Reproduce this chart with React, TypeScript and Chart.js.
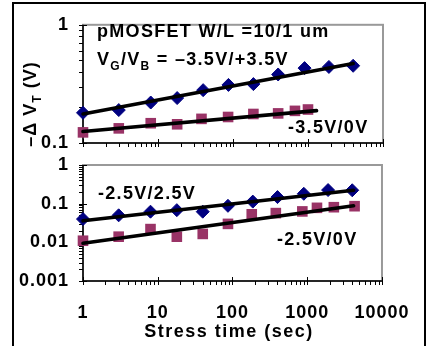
import { useEffect, useRef } from "react";
import { Chart, registerables } from "chart.js";

Chart.register(...registerables);

// ---------- data ----------
const timeTicks = [1, 10, 100, 1000, 10000];
const topYTicks = [0.1, 1];
const bottomYTicks = [0.001, 0.01, 0.1, 1];

// diamonds (bias on bulk) – same stress times in both panels
const timesDiamond = [1, 3, 8, 18, 40, 87, 187, 400, 900, 1900, 4000];
const top35Bias = [0.18, 0.19, 0.22, 0.24, 0.28, 0.31, 0.315, 0.38, 0.43, 0.44, 0.45];
const bot25Bias = [0.04, 0.05, 0.062, 0.068, 0.062, 0.088, 0.113, 0.148, 0.18, 0.225, 0.222];

// squares (no bulk bias)
const timesTopSquare = [1, 3, 8, 18, 38, 86, 187, 400, 670, 1000];
const top35NoBias = [0.123, 0.133, 0.147, 0.144, 0.16, 0.166, 0.176, 0.178, 0.187, 0.192];
const timesBotSquare = [1, 3, 8, 18, 40, 87, 181, 380, 860, 1350, 2270, 4300];
const bot25NoBias = [0.011, 0.014, 0.022, 0.014, 0.0165, 0.03, 0.053, 0.057, 0.063, 0.078, 0.081, 0.086];

// fitted power-law lines (end points)
const fitTopBiasT = [1, 4000];
const fitTopBiasV = [0.176, 0.47];
const fitTopNoBiasT = [1, 1300];
const fitTopNoBiasV = [0.125, 0.188];
const fitBotBiasT = [1, 4170];
const fitBotBiasV = [0.036, 0.222];
const fitBotNoBiasT = [1, 4170];
const fitBotNoBiasV = [0.0095, 0.088];

// ---------- styles ----------
const NAVY = "#000080";
const PLUM = "#993366";
const FONT = '"Liberation Sans", Arial, Helvetica, sans-serif';
const BIG = `bold 18px ${FONT}`;
const SUB = `bold 12px ${FONT}`;

const pts = (xs: number[], ys: number[]) => xs.map((x, i) => ({ x, y: ys[i] }));

type Part = { t: string; sub?: boolean };

function partsWidth(ctx: CanvasRenderingContext2D, parts: Part[]) {
  let w = 0;
  for (const p of parts) {
    ctx.font = p.sub ? SUB : BIG;
    w += ctx.measureText(p.t).width;
  }
  return w;
}

function drawRich(ctx: CanvasRenderingContext2D, parts: Part[], x: number, y: number) {
  let cx = x;
  ctx.textAlign = "left";
  ctx.textBaseline = "alphabetic";
  for (const p of parts) {
    ctx.font = p.sub ? SUB : BIG;
    ctx.fillText(p.t, cx, y + (p.sub ? 5 : 0));
    cx += ctx.measureText(p.t).width;
  }
}

const decorPlugin = {
  id: "decor",
  beforeDraw(chart: any) {
    (chart.ctx as any).letterSpacing = "1px";
  },
  beforeDatasetsDraw(chart: any) {
    const { ctx, chartArea: a, scales } = chart;
    ctx.save();
    ctx.strokeStyle = "#999999";
    ctx.lineWidth = 2;
    ctx.strokeRect(a.left, a.top, a.right - a.left, a.bottom - a.top);
    ctx.strokeStyle = "#000";
    ctx.lineWidth = 1.5;
    ctx.beginPath();
    ctx.moveTo(a.left, a.top);
    ctx.lineTo(a.left, a.bottom);
    ctx.lineTo(a.right, a.bottom);
    ctx.stroke();
    ctx.lineWidth = 1;
    const logTicks = (min: number, max: number) => {
      const out: { v: number; major: boolean }[] = [];
      for (let e = Math.floor(Math.log10(min) + 1e-9); e <= Math.round(Math.log10(max)); e++) {
        for (let k = 1; k <= 9; k++) {
          const v = k * Math.pow(10, e);
          if (v < min * 0.999 || v > max * 1.001) continue;
          out.push({ v, major: k === 1 });
        }
      }
      return out;
    };
    const xs = scales.x;
    const ys = scales.y;
    ctx.beginPath();
    for (const t of logTicks(xs.min, xs.max)) {
      const px = Math.round(xs.getPixelForValue(t.v)) + 0.5;
      ctx.moveTo(px, t.major ? a.bottom - 4 : a.bottom);
      ctx.lineTo(px, a.bottom + 4);
    }
    for (const t of logTicks(ys.min, ys.max)) {
      const py = Math.round(ys.getPixelForValue(t.v)) + 0.5;
      ctx.moveTo(a.left - 4, py);
      ctx.lineTo(t.major ? a.left + 4 : a.left, py);
    }
    ctx.stroke();
    ctx.restore();
  },
};

const topTextPlugin = {
  id: "topText",
  afterDraw(chart: any) {
    const ctx: CanvasRenderingContext2D = chart.ctx;
    ctx.save();
    (ctx as any).letterSpacing = "1.3px";
    ctx.fillStyle = "#000";
    drawRich(ctx, [{ t: "pMOSFET W/L =10/1 um" }], 97, 37);
    drawRich(
      ctx,
      [{ t: "V" }, { t: "G", sub: true }, { t: "/V" }, { t: "B", sub: true }, { t: " = –3.5V/+3.5V" }],
      97,
      65
    );
    drawRich(ctx, [{ t: "-3.5V/0V" }], 288, 133);
    // y axis title
    (ctx as any).letterSpacing = "1px";
    const yParts: Part[] = [{ t: "–Δ V" }, { t: "T", sub: true }, { t: " (V)" }];
    const w = partsWidth(ctx, yParts);
    ctx.translate(36, 104);
    ctx.rotate(-Math.PI / 2);
    drawRich(ctx, yParts, -w / 2, 0);
    ctx.restore();
  },
};

const bottomTextPlugin = {
  id: "bottomText",
  afterDraw(chart: any) {
    const ctx: CanvasRenderingContext2D = chart.ctx;
    ctx.save();
    (ctx as any).letterSpacing = "1.3px";
    ctx.fillStyle = "#000";
    drawRich(ctx, [{ t: "-2.5V/2.5V" }], 98, 199);
    drawRich(ctx, [{ t: "-2.5V/0V" }], 277, 245);
    ctx.font = BIG;
    (ctx as any).letterSpacing = "1.5px";
    ctx.textAlign = "center";
    ctx.textBaseline = "alphabetic";
    ctx.fillText("Stress time (sec)", 229, 337);
    ctx.restore();
  },
};

function lineDs(xs: number[], ys: number[]) {
  return {
    data: pts(xs, ys),
    showLine: true,
    borderColor: "#000",
    backgroundColor: "#000",
    borderWidth: 3.6,
    borderCapStyle: "round",
    pointRadius: 0,
    clip: false,
  };
}

function markerDs(xs: number[], ys: number[], diamond: boolean) {
  const c = diamond ? NAVY : PLUM;
  return {
    data: pts(xs, ys),
    showLine: false,
    pointStyle: diamond ? "rectRot" : "rect",
    pointRadius: diamond ? 6.5 : 7.5,
    backgroundColor: c,
    borderColor: c,
    borderWidth: diamond ? 1 : 0,
    clip: false,
  };
}

function makeConfig(opts: {
  datasets: any[];
  yMin: number;
  yMax: number;
  yTicks: number[];
  showX: boolean;
  padding: any;
  xHeight: number;
  plugins: any[];
}) {
  return {
    type: "scatter" as const,
    data: { datasets: opts.datasets },
    options: {
      animation: false,
      responsive: false,
      devicePixelRatio: 1,
      events: [],
      layout: { padding: opts.padding },
      plugins: { legend: { display: false }, tooltip: { enabled: false } },
      scales: {
        x: {
          type: "logarithmic",
          min: 1,
          max: 10000,
          afterBuildTicks: (s: any) => {
            s.ticks = timeTicks.map((v) => ({ value: v }));
          },
          afterFit: (s: any) => {
            s.height = opts.xHeight;
          },
          ticks: {
            display: opts.showX,
            autoSkip: false,
            maxRotation: 0,
            padding: 21,
            color: "#000",
            font: { family: FONT, size: 18, weight: "bold" },
            callback: (v: any) => String(v),
          },
          grid: { display: false, drawTicks: false },
          border: { display: false },
        },
        y: {
          type: "logarithmic",
          min: opts.yMin,
          max: opts.yMax,
          afterBuildTicks: (s: any) => {
            s.ticks = opts.yTicks.map((v) => ({ value: v }));
          },
          afterFit: (s: any) => {
            s.width = 83;
          },
          ticks: {
            autoSkip: false,
            padding: 14,
            color: "#000",
            font: { family: FONT, size: 18, weight: "bold" },
            callback: (v: any) => String(v),
          },
          grid: { display: false, drawTicks: false },
          border: { display: false },
        },
      },
    },
    plugins: opts.plugins,
  };
}

export default function App() {
  const topRef = useRef<HTMLCanvasElement>(null);
  const botRef = useRef<HTMLCanvasElement>(null);

  useEffect(() => {
    const top = new Chart(
      topRef.current as HTMLCanvasElement,
      makeConfig({
        datasets: [
          lineDs(fitTopBiasT, fitTopBiasV),
          lineDs(fitTopNoBiasT, fitTopNoBiasV),
          markerDs(timesDiamond, top35Bias, true),
          markerDs(timesTopSquare, top35NoBias, false),
        ],
        yMin: 0.1,
        yMax: 1,
        yTicks: topYTicks,
        showX: false,
        padding: { left: 0, right: 45, top: 15, bottom: 203 },
        xHeight: 0,
        plugins: [decorPlugin, topTextPlugin],
      }) as any
    );
    const bottom = new Chart(
      botRef.current as HTMLCanvasElement,
      makeConfig({
        datasets: [
          lineDs(fitBotBiasT, fitBotBiasV),
          lineDs(fitBotNoBiasT, fitBotNoBiasV),
          markerDs(timesDiamond, bot25Bias, true),
          markerDs(timesBotSquare, bot25NoBias, false),
        ],
        yMin: 0.001,
        yMax: 1,
        yTicks: bottomYTicks,
        showX: true,
        padding: { left: 0, right: 41, top: 165, bottom: 10 },
        xHeight: 55,
        plugins: [decorPlugin, bottomTextPlugin],
      }) as any
    );
    return () => {
      top.destroy();
      bottom.destroy();
    };
  }, []);

  return (
    <div
      style={{
        position: "absolute",
        left: 0,
        top: 0,
        width: 428,
        height: 346,
        overflow: "hidden",
        background: "#fff",
      }}
    >
      <canvas ref={topRef} width={428} height={346} style={{ position: "absolute", left: 0, top: 0 }} />
      <canvas ref={botRef} width={428} height={346} style={{ position: "absolute", left: 0, top: 0 }} />
      <div
        style={{
          position: "absolute",
          left: 12,
          top: 2,
          width: 414,
          height: 400,
          border: "2px solid #000",
          borderBottom: "none",
          boxSizing: "border-box",
          pointerEvents: "none",
        }}
      />
    </div>
  );
}
